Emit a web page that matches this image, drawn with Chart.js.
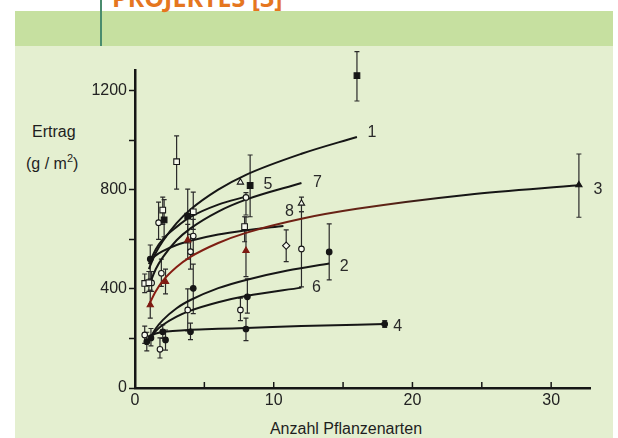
<!DOCTYPE html>
<html>
<head>
<meta charset="utf-8">
<script src="https://cdn.jsdelivr.net/npm/chart.js@4.4.1/dist/chart.umd.min.js"></script>
<style>
  html, body { margin:0; padding:0; width:618px; height:438px; overflow:hidden; background:#fff;
    font-family:"Liberation Sans", Arial, sans-serif; }
  .head { position:absolute; left:112px; top:-20px; font-family:"Open Sans", sans-serif; font-weight:700;
    font-size:25px; color:#e5761f; white-space:nowrap; }
  .band { position:absolute; left:15px; top:11px; width:598px; height:35px; background:#c6e0a0; }
  .panel { position:absolute; left:15px; top:46px; width:598px; height:392px; background:#e4efd0; }
  .vline { position:absolute; left:100px; top:0; width:2px; height:46px; background:#4a8c6e; }
  .lab { position:absolute; font-size:16px; color:#1e1e1e; white-space:nowrap; }
  .lab sup { font-size:11px; position:relative; top:-1px; }
  canvas { position:absolute; left:0; top:0; }
</style>
</head>
<body>
<div class="band"></div>
<div class="panel"></div>
<div class="vline"></div>
<div class="head">PROJEKTES [3]</div>
<div class="lab" style="left:32px;top:123px;">Ertrag</div>
<div class="lab" style="left:26px;top:153px;">(g / m<sup>2</sup>)</div>
<div class="lab" style="left:246px;top:420px;width:200px;text-align:center;">Anzahl Pflanzenarten</div>
<canvas id="chart1" width="618" height="438"></canvas>
<script>
// fitted curves (yield vs. species number)
const curve1X = [1, 1.5, 2, 3, 4, 6, 8, 12, 16];
const curve1Y = [480, 545, 592, 665, 720, 800, 860, 945, 1013];
const curve2X = [1, 1.5, 2, 3, 4, 6, 8, 11, 14];
const curve2Y = [193, 240, 274, 322, 355, 403, 436, 474, 502];
const curve3X = [1, 1.5, 2, 3, 4, 6, 8, 12, 16, 24, 32];
const curve3Y = [335, 390, 432, 488, 529, 585, 626, 683, 723, 780, 818];
const curve4X = [1, 1.5, 2, 3, 4, 6, 8, 12, 18];
const curve4Y = [208, 220, 226, 231, 235, 239, 242, 250, 258];
const curve5X = [1, 1.5, 2, 3, 4, 6, 8];
const curve5Y = [500, 560, 600, 650, 690, 740, 772];
const curve6X = [1, 1.5, 2, 3, 4, 6, 8, 12];
const curve6Y = [196, 230, 254, 288, 312, 346, 371, 405];
const curve7X = [1, 1.5, 2, 3, 4, 6, 8, 12];
const curve7Y = [411, 480, 527, 596, 644, 712, 760, 827];
const curve8X = [1, 1.5, 2, 3, 4, 6, 8, 10.7];
const curve8Y = [510, 535, 552, 577, 594, 619, 636, 654];
const curveNames = ["1", "2", "3", "4", "5", "6", "7", "8"];

// site means with error bars
const fSquareX  = [2.1, 3.8, 8.3, 16];
const fSquareY  = [678, 693, 817, 1260];
const fSquareLo = [610, 585, 691, 1158];
const fSquareHi = [760, 802, 940, 1357];

const oSquareX  = [0.7, 1.0, 2.0, 3.0, 4.2, 7.9];
const oSquareY  = [422, 425, 718, 913, 711, 651];
const oSquareLo = [385, 390, 660, 802, 640, 590];
const oSquareHi = [460, 470, 770, 1017, 790, 691];

const oCircleX  = [0.7, 1.2, 1.7, 1.9, 1.8, 4.2, 4.0, 3.8, 8.0, 7.6, 12];
const oCircleY  = [214, 424, 667, 463, 156, 613, 550, 315, 769, 315, 561];
const oCircleLo = [180, 390, 600, 410, 121, 540, 480, 230, 698, 272, 408];
const oCircleHi = [250, 470, 750, 520, 202, 680, 620, 400, 788, 363, 711];

const fCircleX  = [1.1, 0.85, 1.15, 2.2, 2.0, 4.2, 4.0, 8.1, 8.0, 14, 18];
const fCircleY  = [520, 187, 202, 194, 227, 402, 227, 368, 238, 549, 258];
const fCircleLo = [440, 150, 170, 153, 200, 300, 195, 302, 191, 436, 245];
const fCircleHi = [577, 225, 240, 234, 255, 500, 262, 440, 282, 662, 272];

const fTriX  = [1.1, 2.2, 3.8, 8.0, 32];
const fTriY  = [335, 429, 597, 554, 819];
const fTriLo = [282, 380, 520, 449, 689];
const fTriHi = [395, 480, 660, 690, 944];

const oTriX  = [7.6, 12];
const oTriY  = [830, 745];
const oTriLo = [830, 711];
const oTriHi = [830, 770];

const oDiaX  = [10.9];
const oDiaY  = [574];
const oDiaLo = [510];
const oDiaHi = [638];

const xTicks = [0, 10, 20, 30];
const yTicks = [0, 400, 800, 1200];

const ink = "#161616";
const openFill = "#f6f9ee";
const darkRed = "#7e1a12";
const markSize = {rect: 4, circle: 2.8, triangle: 3.6, rectRot: 3.6};

function pts(xs, ys) { return xs.map((x, i) => ({x: x, y: ys[i]})); }

function curve(xs, ys, name) {
  return {
    type: "line", label: name, data: pts(xs, ys), isCurve: true,
    borderColor: ink, borderWidth: 2, pointRadius: 0, fill: false,
    cubicInterpolationMode: "monotone", order: 2
  };
}

function marks(xs, ys, lo, hi, style, filled) {
  return {
    type: "scatter", data: pts(xs, ys), lo: lo, hi: hi,
    pointStyle: style, pointRadius: markSize[style], borderWidth: 1.1,
    borderColor: ink, backgroundColor: filled ? ink : openFill, order: 1
  };
}

const curve3 = curve(curve3X, curve3Y, "3");
curve3.borderColor = function (ctx) {
  const chart = ctx.chart;
  if (!chart.chartArea) return ink;
  const xs = chart.scales.x;
  const g = chart.ctx.createLinearGradient(xs.getPixelForValue(1), 0, xs.getPixelForValue(32), 0);
  g.addColorStop(0, "#8a1c12");
  g.addColorStop(0.55, "#5e2416");
  g.addColorStop(0.7, ink);
  g.addColorStop(1, ink);
  return g;
};

const fTri = marks(fTriX, fTriY, fTriLo, fTriHi, "triangle", true);
fTri.backgroundColor = ctx => (ctx.raw && ctx.raw.x > 30) ? ink : darkRed;
fTri.borderColor = ctx => (ctx.raw && ctx.raw.x > 30) ? ink : darkRed;

// label offsets (px) from the last point of each curve
const labelShift = {"1": [15, -4], "2": [15, 3], "3": [19, 4], "4": [13, 3],
                    "5": [22, -12], "6": [15, 0], "7": [16, 0], "8": [6, -14]};

const errorBars = {
  id: "errorBars",
  beforeDatasetsDraw(chart) {
    const c = chart.ctx, ys = chart.scales.y;
    c.save();
    c.strokeStyle = "#2a2a2a";
    c.lineWidth = 1.2;
    chart.data.datasets.forEach((ds, i) => {
      if (!ds.lo) return;
      chart.getDatasetMeta(i).data.forEach((p, j) => {
        if (ds.lo[j] === ds.hi[j]) return;
        const top = ys.getPixelForValue(ds.hi[j]), bot = ys.getPixelForValue(ds.lo[j]);
        c.beginPath();
        c.moveTo(p.x, top); c.lineTo(p.x, bot);
        c.moveTo(p.x - 2.5, top); c.lineTo(p.x + 2.5, top);
        c.moveTo(p.x - 2.5, bot); c.lineTo(p.x + 2.5, bot);
        c.stroke();
      });
    });
    c.restore();
  }
};

const inwardTicks = {
  id: "inwardTicks",
  afterDraw(chart) {
    const c = chart.ctx, xs = chart.scales.x;
    c.save();
    c.strokeStyle = ink;
    c.lineWidth = 1.5;
    xs.ticks.forEach((t, i) => {
      const px = xs.getPixelForTick(i);
      if (t.value === 0) return;
      c.beginPath();
      c.moveTo(px, xs.top); c.lineTo(px, xs.top - 6);
      c.stroke();
    });
    c.restore();
  }
};

const curveLabels = {
  id: "curveLabels",
  afterDatasetsDraw(chart) {
    const c = chart.ctx;
    c.save();
    c.font = "16px 'Liberation Sans', Arial, sans-serif";
    c.fillStyle = "#2a2a2a";
    c.textAlign = "center";
    c.textBaseline = "middle";
    chart.data.datasets.forEach((ds, i) => {
      if (!ds.isCurve) return;
      const pts = chart.getDatasetMeta(i).data;
      const last = pts[pts.length - 1];
      const s = labelShift[ds.label];
      c.fillText(ds.label, last.x + s[0], last.y + s[1]);
    });
    c.restore();
  }
};

new Chart(document.getElementById("chart1"), {
  data: {
    datasets: [
      curve(curve1X, curve1Y, curveNames[0]),
      curve(curve2X, curve2Y, curveNames[1]),
      curve3,
      curve(curve4X, curve4Y, curveNames[3]),
      curve(curve5X, curve5Y, curveNames[4]),
      curve(curve6X, curve6Y, curveNames[5]),
      curve(curve7X, curve7Y, curveNames[6]),
      curve(curve8X, curve8Y, curveNames[7]),
      marks(fSquareX, fSquareY, fSquareLo, fSquareHi, "rect", true),
      marks(oSquareX, oSquareY, oSquareLo, oSquareHi, "rect", false),
      marks(oCircleX, oCircleY, oCircleLo, oCircleHi, "circle", false),
      marks(fCircleX, fCircleY, fCircleLo, fCircleHi, "circle", true),
      fTri,
      marks(oTriX, oTriY, oTriLo, oTriHi, "triangle", false),
      marks(oDiaX, oDiaY, oDiaLo, oDiaHi, "rectRot", false)
    ]
  },
  options: {
    responsive: false,
    animation: false,
    layout: { padding: { left: 0, top: 70, right: 28, bottom: 0 } },
    plugins: { legend: { display: false }, tooltip: { enabled: false } },
    scales: {
      x: {
        type: "linear", position: "bottom", min: 0, max: 32.8,
        afterFit: s => { s.height = 50; },
        border: { color: ink, width: 2.5 },
        grid: { drawOnChartArea: false, drawTicks: false },
        ticks: {
          stepSize: 5, includeBounds: false, padding: 3, color: "#222",
          font: { family: "'Liberation Sans', Arial, sans-serif", size: 16 },
          callback: v => xTicks.includes(v) ? String(v) : ""
        }
      },
      y: {
        type: "linear", min: 0, max: 1283,
        afterFit: s => { s.width = 135; },
        border: { color: ink, width: 2.5 },
        grid: { drawOnChartArea: false, tickLength: 6, tickColor: ink, tickWidth: 1.5 },
        ticks: {
          stepSize: 200, includeBounds: false, padding: 2, color: "#222",
          font: { family: "'Liberation Sans', Arial, sans-serif", size: 16 },
          callback: v => yTicks.includes(v) ? String(v) : ""
        }
      }
    }
  },
  plugins: [errorBars, inwardTicks, curveLabels]
});
</script>
</body>
</html>
